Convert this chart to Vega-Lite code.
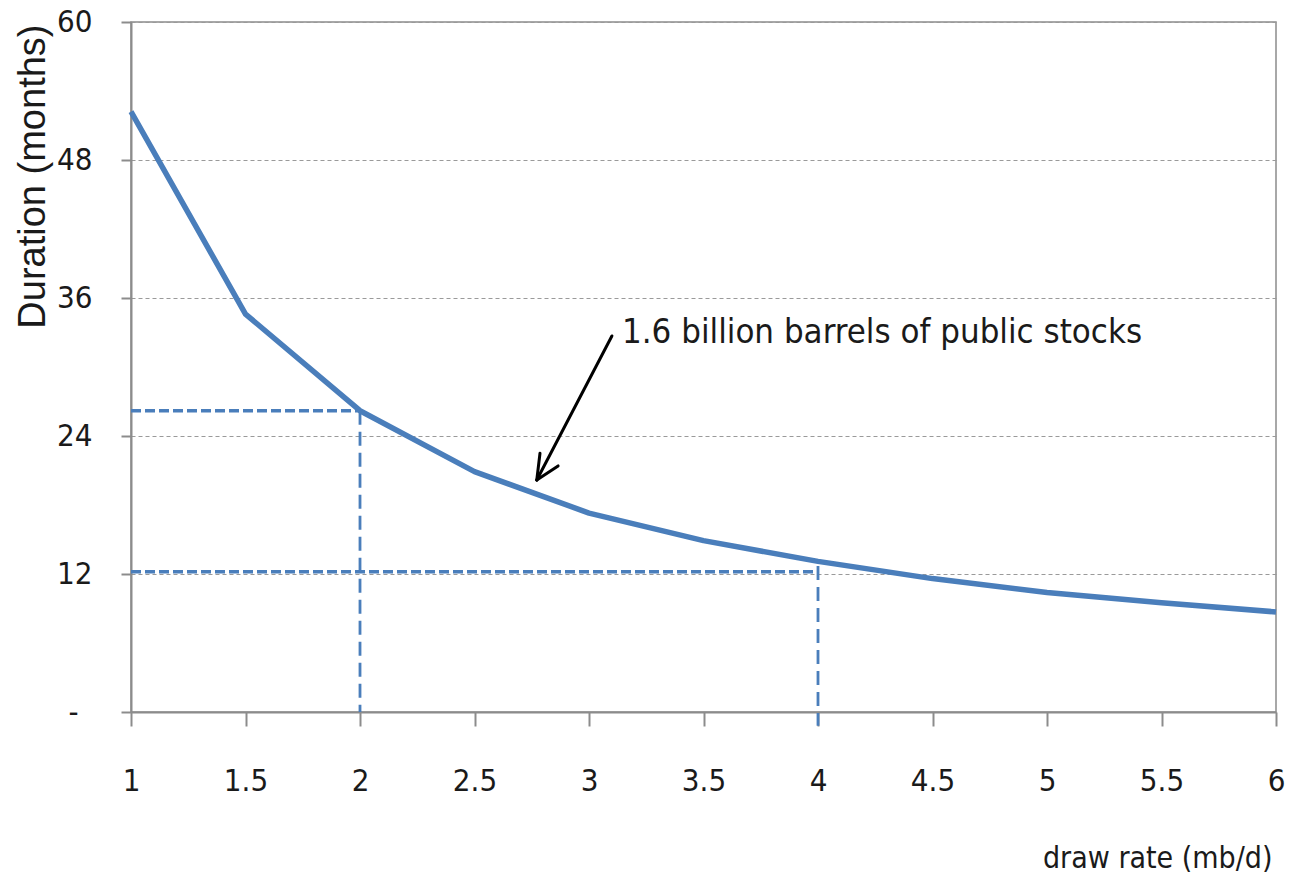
{
  "$schema": "https://vega.github.io/schema/vega-lite/v6.json",
  "width": 1145,
  "height": 690,
  "autosize": {"type": "none"},
  "padding": {"left": 131, "top": 22, "right": 14, "bottom": 166},
  "background": "white",
  "config": {
    "view": {"stroke": "#8c8c8c", "strokeWidth": 1.5},
    "font": "DejaVu Sans Condensed, sans-serif"
  },
  "datasets": {
    "curve": [
      {"rate": 1, "months": 52.2},
      {"rate": 1.5, "months": 34.6},
      {"rate": 2, "months": 26.2},
      {"rate": 2.5, "months": 20.9},
      {"rate": 3, "months": 17.3},
      {"rate": 3.5, "months": 14.9},
      {"rate": 4, "months": 13.1},
      {"rate": 4.5, "months": 11.6},
      {"rate": 5, "months": 10.4},
      {"rate": 5.5, "months": 9.5},
      {"rate": 6, "months": 8.7}
    ],
    "hguides": [
      {"x": 1, "x2": 2, "y": 26.2, "y2": 26.2},
      {"x": 1, "x2": 4, "y": 12.2, "y2": 12.2}
    ],
    "vguides": [
      {"x": 2, "x2": 2, "y": 26.2, "y2": 0},
      {"x": 4, "x2": 4, "y": 12.7, "y2": -1.2}
    ],
    "arrow": [
      {"x": 3.1, "y": 32.7, "x2": 2.772, "y2": 20.17},
      {"x": 2.786, "y": 22.5, "x2": 2.772, "y2": 20.17},
      {"x": 2.865, "y": 21.4, "x2": 2.772, "y2": 20.17}
    ],
    "label": [
      {"x": 3.144, "y": 32.1, "text": "1.6 billion barrels of public stocks"}
    ]
  },
  "layer": [
    {
      "data": {"name": "hguides"},
      "mark": {"type": "rule", "color": "#4a7ebb", "strokeWidth": 3.5, "strokeDash": [10, 4]},
      "encoding": {
        "x": {
          "field": "x", "type": "quantitative",
          "scale": {"domain": [1, 6], "nice": false, "zero": false},
          "axis": {
            "values": [1, 1.5, 2, 2.5, 3, 3.5, 4, 4.5, 5, 5.5, 6],
            "format": "~g",
            "grid": false,
            "domainColor": "#8c8c8c", "domainWidth": 2,
            "tickColor": "#8c8c8c", "tickWidth": 2, "tickSize": 14,
            "labelFont": "DejaVu Sans Condensed, sans-serif",
            "labelFontSize": 31, "labelColor": "#1a1a1a", "labelPadding": 40,
            "labelFlush": false, "labelOverlap": false,
            "title": "draw rate (mb/d)",
            "titleFont": "DejaVu Sans Condensed, sans-serif",
            "titleFontSize": 30, "titleFontWeight": "normal", "titleColor": "#1a1a1a",
            "titleAlign": "right", "titleBaseline": "alphabetic",
            "titleX": 1141, "titleY": 155
          }
        },
        "x2": {"field": "x2"},
        "y": {
          "field": "y", "type": "quantitative",
          "scale": {"domain": [0, 60], "nice": false},
          "axis": {
            "values": [0, 12, 24, 36, 48, 60],
            "labelExpr": "datum.value == 0 ? '-' : datum.label",
            "grid": true, "gridColor": "#9a9a9a", "gridDash": [4, 3], "gridWidth": 1.2,
            "domainColor": "#8c8c8c", "domainWidth": 2,
            "tickColor": "#8c8c8c", "tickWidth": 2, "tickSize": 10,
            "labelFont": "DejaVu Sans Condensed, sans-serif",
            "labelFontSize": 31, "labelColor": "#1a1a1a",
            "labelPadding": {"condition": {"test": "datum.value == 0", "value": 43}, "value": 29},
            "labelFlush": false, "labelOverlap": false,
            "title": "Duration (months)",
            "titleFont": "Liberation Sans, Arial, sans-serif",
            "titleFontSize": 38, "titleFontWeight": "normal", "titleColor": "#1a1a1a",
            "titleAngle": -90, "titleAlign": "right", "titleBaseline": "alphabetic",
            "titleX": -87, "titleY": 2
          }
        },
        "y2": {"field": "y2"}
      }
    },
    {
      "data": {"name": "vguides"},
      "mark": {"type": "rule", "color": "#4a7ebb", "strokeWidth": 2.8, "strokeDash": [14, 7]},
      "encoding": {
        "x": {"field": "x", "type": "quantitative"},
        "x2": {"field": "x2"},
        "y": {"field": "y", "type": "quantitative"},
        "y2": {"field": "y2"}
      }
    },
    {
      "data": {"name": "curve"},
      "mark": {"type": "line", "color": "#4a7ebb", "strokeWidth": 5.5, "strokeJoin": "round"},
      "encoding": {
        "x": {"field": "rate", "type": "quantitative"},
        "y": {"field": "months", "type": "quantitative"}
      }
    },
    {
      "data": {"name": "arrow"},
      "mark": {"type": "rule", "color": "#000000", "strokeWidth": 3, "strokeCap": "round"},
      "encoding": {
        "x": {"field": "x", "type": "quantitative"},
        "x2": {"field": "x2"},
        "y": {"field": "y", "type": "quantitative"},
        "y2": {"field": "y2"}
      }
    },
    {
      "data": {"name": "label"},
      "mark": {
        "type": "text", "align": "left", "baseline": "alphabetic",
        "font": "DejaVu Sans Condensed, sans-serif",
        "fontSize": 34.5, "color": "#1a1a1a"
      },
      "encoding": {
        "x": {"field": "x", "type": "quantitative"},
        "y": {"field": "y", "type": "quantitative"},
        "text": {"field": "text"}
      }
    }
  ]
}
